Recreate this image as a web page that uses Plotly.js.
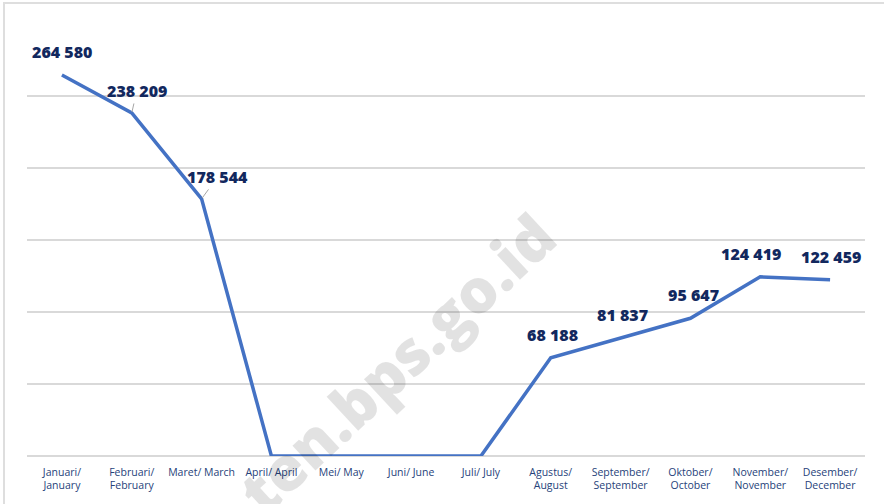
<!DOCTYPE html>
<html>
<head>
<meta charset="utf-8">
<script src="https://cdn.plot.ly/plotly-3.0.1.min.js"></script>
<style>
html,body{margin:0;padding:0;background:#fff;}
#wrap{position:relative;width:884px;height:504px;overflow:hidden;}
#chart{width:884px;height:504px;}
#frame{position:absolute;left:3px;top:2px;width:1000px;height:1000px;border-left:2px solid #dedede;border-top:2px solid #dedede;pointer-events:none;}
</style>
</head>
<body>
<div id="wrap"><div id="chart"></div><div id="frame"></div></div>
<script>
const categories = [
  "Januari/<br>January", "Februari/<br>February", "Maret/ March", "April/ April",
  "Mei/ May", "Juni/ June", "Juli/ July", "Agustus/<br>August",
  "September/<br>September", "Oktober/<br>October", "November/<br>November", "Desember/<br>December"
];
const values = [264580, 238209, 178544, 0, 0, 0, 0, 68188, 81837, 95647, 124419, 122459];
const valueLabels = ["264 580", "238 209", "178 544", "", "", "", "", "68 188", "81 837", "95 647", "124 419", "122 459"];
const labelXShift = [0, 5, 16, 0, 0, 0, 0, 2, 2, 3, -9, 1];
const leaderLine = [false, true, true, false, false, false, false, false, false, false, false, false];

const navy = "#12285e";
const annotations = [];
values.forEach((v, i) => {
  if (!valueLabels[i]) return;
  const a = {
    x: categories[i], y: v, xref: "x", yref: "y",
    text: valueLabels[i],
    font: {family: "Open Sans, Noto Sans, sans-serif", size: 16, color: navy, weight: 800},
    xanchor: "center", yanchor: "middle"
  };
  if (leaderLine[i]) {
    a.showarrow = true; a.arrowhead = 0; a.arrowwidth = 1; a.arrowcolor = "#a6a6a6";
    a.ax = labelXShift[i]; a.ay = -22; a.standoff = 1;
  } else {
    a.showarrow = false; a.xshift = labelXShift[i]; a.yshift = 23;
  }
  annotations.push(a);
});
annotations.push({
  xref: "paper", yref: "paper", x: 0.44, y: 0.215, xanchor: "center", yanchor: "middle",
  text: "ten.bps.go.id", showarrow: false, textangle: -43,
  font: {family: "Open Sans, sans-serif", size: 61, weight: 800, color: "rgba(0,0,0,0.115)"}
});

const trace = {
  x: categories, y: values, type: "scatter", mode: "lines",
  line: {color: "#4472c4", width: 3.5}, hoverinfo: "skip"
};

const layout = {
  width: 884, height: 504,
  margin: {l: 27, r: 19, t: 24, b: 48},
  paper_bgcolor: "#ffffff", plot_bgcolor: "#ffffff",
  showlegend: false,
  xaxis: {
    type: "category", range: [-0.5, 11.5], showgrid: false, zeroline: false,
    showline: false, ticks: "", ticklabelstandoff: 8,
    tickfont: {family: "Open Sans, Noto Sans, sans-serif", size: 10.5, color: "#26427a"}
  },
  yaxis: {
    range: [0, 300000], dtick: 50000, showgrid: true, gridcolor: "#d9d9d9", gridwidth: 1.5,
    zeroline: true, zerolinecolor: "#d9d9d9", zerolinewidth: 1.5,
    showticklabels: false, ticks: ""
  },
  annotations: annotations
};

Plotly.newPlot("chart", [trace], layout, {staticPlot: true});
</script>
</body>
</html>
